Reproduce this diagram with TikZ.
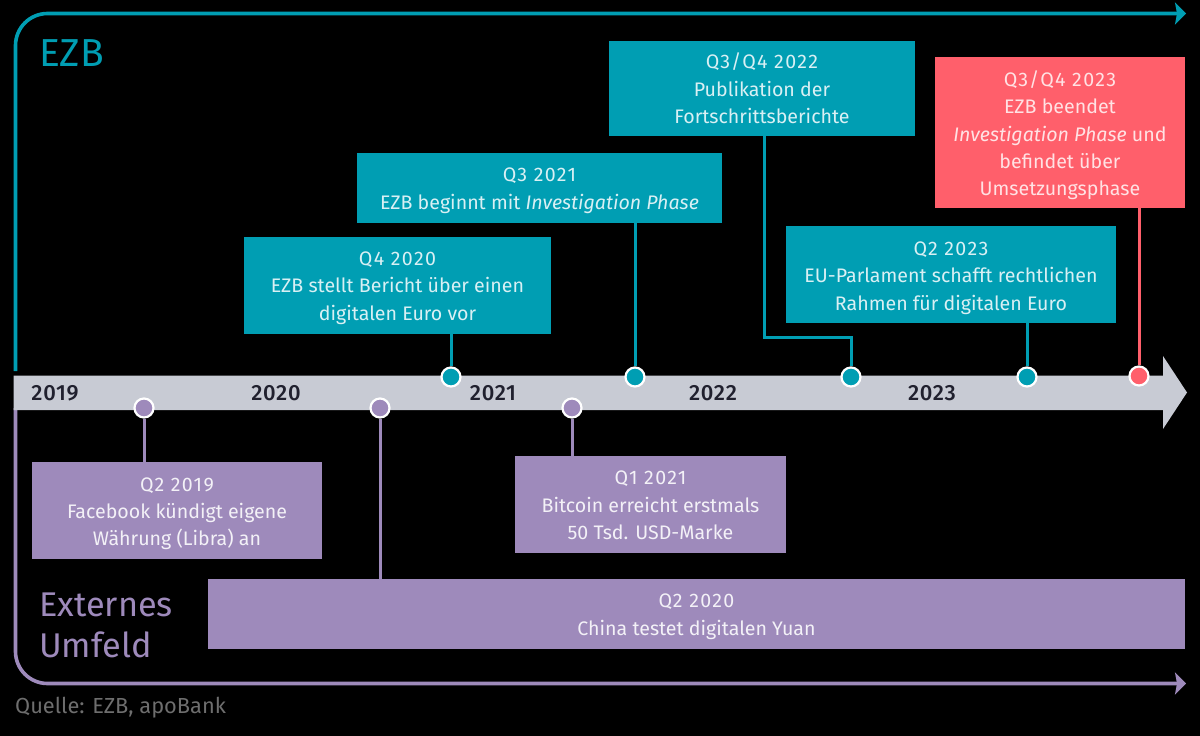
\documentclass[tikz,border=0pt]{standalone}
\usepackage{fontspec}
\setmainfont{Fira Sans}[BoldFont={Fira Sans Medium}]
\newfontfamily\lightf{Fira Sans}
\newfontfamily\hdf{Fira Sans}[LetterSpace=7]
\newfontfamily\yrf{Fira Sans Medium}[LetterSpace=3]
\newcommand{\hd}[1]{{\hdf #1}}
\usetikzlibrary{arrows.meta}
\definecolor{teal1}{HTML}{009EB3}
\definecolor{purp}{HTML}{9E8ABB}
\definecolor{redb}{HTML}{FF5F6B}
\definecolor{bar}{HTML}{C8CBD4}
\definecolor{src}{HTML}{6E6E6E}
\definecolor{yr}{HTML}{20202E}
\tikzset{
 box/.style={inner sep=0pt,align=center,font=\lightf\fontsize{19.6}{27.2}\selectfont,anchor=center},
 tealbox/.style={box,fill=teal1,text=white!85!teal1},
 purpbox/.style={box,fill=purp,text=white!88!purp},
 redbox/.style={box,fill=redb,text=white!82!redb},
 dot/.style={circle,draw=white,line width=2.2pt,minimum size=19pt,inner sep=0pt},
 year/.style={font=\yrf\fontsize{22}{24}\selectfont,text=yr,inner sep=0pt},
 conn/.style={line width=3pt},
 bracket/.style={line width=3.6pt,-{Stealth[length=11pt,width=22pt,inset=2pt]}},
 head/.style={font=\fontsize{34.3}{40}\selectfont,inner sep=0pt,anchor=west},
}
\begin{document}
\begin{tikzpicture}[x=1pt,y=-1pt]
\useasboundingbox (0,0) rectangle (1200,736);
\fill[black] (0,0) rectangle (1200,736);
% brackets
\coordinate (tstart) at (15.5,371);
\coordinate (tend) at (1186,13.5);
\coordinate (pstart) at (15.5,408);
\coordinate (pend) at (1186,683.5);
\draw[bracket,teal1] (tstart) -- (15.5,45.5) arc[start angle=180,end angle=90,x radius=32,y radius=-32] -- (tend);
\draw[bracket,purp] (pstart) -- (15.5,651.5) arc[start angle=180,end angle=270,x radius=32,y radius=-32] -- (pend);
% timeline
\fill[bar] (13.5,375.5) -- (1163,375.5) -- (1163,356) -- (1187,392.5) -- (1163,429) -- (1163,410) -- (13.5,410) -- cycle;
\node[year] (y19) at (55,393) {2019};
\node[year] (y20) at (276,393) {2020};
\node[year] (y21) at (493,393) {2021};
\node[year] (y22) at (713,393) {2022};
\node[year] (y23) at (932,393) {2023};
% boxes
\node[tealbox,minimum width=306pt,minimum height=95pt,text height=70pt] (b22) at (762,88.5) {\hd{Q3/Q4 2022}\\Publikation der\\Fortschrittsberichte};
\node[redbox,minimum width=250pt,minimum height=151pt,text height=130pt] (b23r) at (1060,132.5) {\hd{Q3/Q4 2023}\\EZB beendet\\\textit{Investigation Phase} und\\befindet über\\Umsetzungsphase};
\node[tealbox,minimum width=365pt,minimum height=70pt,text height=46.5pt] (b21) at (539.5,188) {\hd{Q3 2021}\\EZB beginnt mit \textit{Investigation Phase}};
\node[tealbox,minimum width=307pt,minimum height=97pt,text height=73.5pt] (b20) at (397.5,285.5) {\hd{Q4 2020}\\EZB stellt Bericht über einen\\digitalen Euro vor};
\node[tealbox,minimum width=330pt,minimum height=97pt,text height=75.5pt] (b23) at (951,274.5) {\hd{Q2 2023}\\EU-Parlament schafft rechtlichen\\Rahmen für digitalen Euro};
\node[purpbox,minimum width=290pt,minimum height=97pt,text height=74pt] (p19) at (177,510.5) {\hd{Q2 2019}\\Facebook kündigt eigene\\Währung (Libra) an};
\node[purpbox,minimum width=271pt,minimum height=97pt,text height=70pt] (p21) at (650.5,504.5) {\hd{Q1 2021}\\Bitcoin erreicht erstmals\\50 Tsd. USD-Marke};
\node[purpbox,minimum width=977pt,minimum height=70pt,text height=46.5pt] (p20) at (696.5,614) {\hd{Q2 2020}\\China testet digitalen Yuan};
% connectors
\node[dot,fill=teal1] (d1) at (451,377) {};
\node[dot,fill=teal1] (d2) at (635,377) {};
\node[dot,fill=teal1] (d3) at (851,377) {};
\node[dot,fill=teal1] (d4) at (1027,377) {};
\node[dot,fill=redb] (d5) at (1139,376) {};
\node[dot,fill=purp] (e1) at (144,408) {};
\node[dot,fill=purp] (e2) at (380,408) {};
\node[dot,fill=purp] (e3) at (572,408) {};
\coordinate (kn) at (764,337);
\draw[conn,teal1] (b20.south -| d1) -- (d1);
\draw[conn,teal1] (b21.south -| d2) -- (d2);
\draw[conn,teal1] (b22.south -| kn) -- (kn) -| (d3);
\draw[conn,teal1] (b23.south -| d4) -- (d4);
\draw[conn,redb] (b23r.south -| d5) -- (d5);
\draw[conn,purp] (e1) -- (e1 |- p19.north);
\draw[conn,purp] (e2) -- (e2 |- p20.north);
\draw[conn,purp] (e3) -- (e3 |- p21.north);
% labels
\node[head,text=teal1] (lezb) at (39,53) {\fontsize{39}{40}\selectfont EZB};
\node[head,text=purp] (lex) at (39,605) {Externes};
\node[head,text=purp] (lum) at (39,645) {Umfeld};
\node[inner sep=0pt,anchor=west,text=src,font=\fontsize{21.8}{24}\selectfont] (q) at (15,708) {Quelle: EZB, apoBank};
\end{tikzpicture}
\end{document}
